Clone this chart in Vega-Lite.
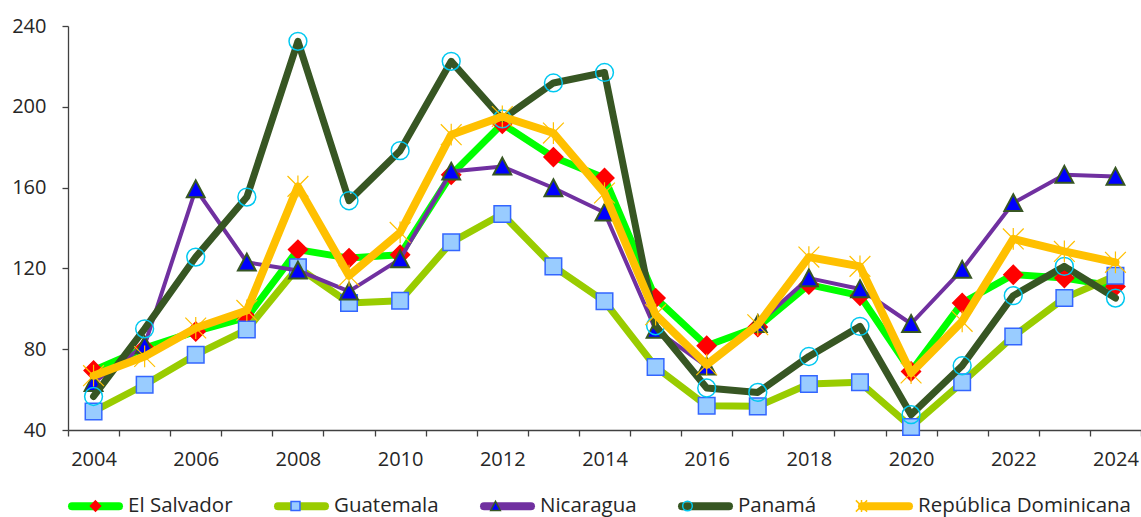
{
  "$schema": "https://vega.github.io/schema/vega-lite/v6.json",
  "width": 1073,
  "height": 404,
  "autosize": {"type": "none"},
  "padding": {"left": 68, "top": 26, "right": 0, "bottom": 87},
  "background": "white",
  "config": {
    "font": "Open Sans",
    "view": {"stroke": null},
    "axis": {"labelFont": "Open Sans", "labelFontSize": 20, "labelColor": "#262626", "domainColor": "#404040", "tickColor": "#404040", "domainWidth": 1.3, "tickWidth": 1.3, "tickSize": 6, "grid": false, "title": null}
  },
  "data": {"values": [
    {"year": 2004, "country": "El Salvador", "value": 69.5},
    {"year": 2005, "country": "El Salvador", "value": 80.5},
    {"year": 2006, "country": "El Salvador", "value": 88.8},
    {"year": 2007, "country": "El Salvador", "value": 95.7},
    {"year": 2008, "country": "El Salvador", "value": 129.3},
    {"year": 2009, "country": "El Salvador", "value": 125.1},
    {"year": 2010, "country": "El Salvador", "value": 126.8},
    {"year": 2011, "country": "El Salvador", "value": 166.4},
    {"year": 2012, "country": "El Salvador", "value": 191.6},
    {"year": 2013, "country": "El Salvador", "value": 175.1},
    {"year": 2014, "country": "El Salvador", "value": 164.8},
    {"year": 2015, "country": "El Salvador", "value": 105.3},
    {"year": 2016, "country": "El Salvador", "value": 81.7},
    {"year": 2017, "country": "El Salvador", "value": 91},
    {"year": 2018, "country": "El Salvador", "value": 112},
    {"year": 2019, "country": "El Salvador", "value": 106.5},
    {"year": 2020, "country": "El Salvador", "value": 69},
    {"year": 2021, "country": "El Salvador", "value": 102.9},
    {"year": 2022, "country": "El Salvador", "value": 116.9},
    {"year": 2023, "country": "El Salvador", "value": 115.2},
    {"year": 2024, "country": "El Salvador", "value": 111.1},
    {"year": 2004, "country": "Guatemala", "value": 49.2},
    {"year": 2005, "country": "Guatemala", "value": 62.4},
    {"year": 2006, "country": "Guatemala", "value": 77.3},
    {"year": 2007, "country": "Guatemala", "value": 89.7},
    {"year": 2008, "country": "Guatemala", "value": 120.5},
    {"year": 2009, "country": "Guatemala", "value": 102.9},
    {"year": 2010, "country": "Guatemala", "value": 104},
    {"year": 2011, "country": "Guatemala", "value": 132.9},
    {"year": 2012, "country": "Guatemala", "value": 146.9},
    {"year": 2013, "country": "Guatemala", "value": 121},
    {"year": 2014, "country": "Guatemala", "value": 103.7},
    {"year": 2015, "country": "Guatemala", "value": 71.2},
    {"year": 2016, "country": "Guatemala", "value": 52},
    {"year": 2017, "country": "Guatemala", "value": 51.7},
    {"year": 2018, "country": "Guatemala", "value": 62.8},
    {"year": 2019, "country": "Guatemala", "value": 63.6},
    {"year": 2020, "country": "Guatemala", "value": 41.5},
    {"year": 2021, "country": "Guatemala", "value": 63.6},
    {"year": 2022, "country": "Guatemala", "value": 86.3},
    {"year": 2023, "country": "Guatemala", "value": 105.3},
    {"year": 2024, "country": "Guatemala", "value": 116.4},
    {"year": 2004, "country": "Nicaragua", "value": 63.4},
    {"year": 2005, "country": "Nicaragua", "value": 82},
    {"year": 2006, "country": "Nicaragua", "value": 159.3},
    {"year": 2007, "country": "Nicaragua", "value": 123},
    {"year": 2008, "country": "Nicaragua", "value": 119},
    {"year": 2009, "country": "Nicaragua", "value": 108.6},
    {"year": 2010, "country": "Nicaragua", "value": 124.6},
    {"year": 2011, "country": "Nicaragua", "value": 168},
    {"year": 2012, "country": "Nicaragua", "value": 170.5},
    {"year": 2013, "country": "Nicaragua", "value": 159.8},
    {"year": 2014, "country": "Nicaragua", "value": 147.7},
    {"year": 2015, "country": "Nicaragua", "value": 89.7},
    {"year": 2016, "country": "Nicaragua", "value": 71.5},
    {"year": 2017, "country": "Nicaragua", "value": 92.6},
    {"year": 2018, "country": "Nicaragua", "value": 115.2},
    {"year": 2019, "country": "Nicaragua", "value": 109.8},
    {"year": 2020, "country": "Nicaragua", "value": 92.6},
    {"year": 2021, "country": "Nicaragua", "value": 119.4},
    {"year": 2022, "country": "Nicaragua", "value": 152.4},
    {"year": 2023, "country": "Nicaragua", "value": 166.4},
    {"year": 2024, "country": "Nicaragua", "value": 165.5},
    {"year": 2004, "country": "Panamá", "value": 56.6},
    {"year": 2005, "country": "Panamá", "value": 90.1},
    {"year": 2006, "country": "Panamá", "value": 125.6},
    {"year": 2007, "country": "Panamá", "value": 155.3},
    {"year": 2008, "country": "Panamá", "value": 232.4},
    {"year": 2009, "country": "Panamá", "value": 153.5},
    {"year": 2010, "country": "Panamá", "value": 178.3},
    {"year": 2011, "country": "Panamá", "value": 222.5},
    {"year": 2012, "country": "Panamá", "value": 194},
    {"year": 2013, "country": "Panamá", "value": 211.8},
    {"year": 2014, "country": "Panamá", "value": 217},
    {"year": 2015, "country": "Panamá", "value": 91.6},
    {"year": 2016, "country": "Panamá", "value": 60.8},
    {"year": 2017, "country": "Panamá", "value": 58.6},
    {"year": 2018, "country": "Panamá", "value": 76.4},
    {"year": 2019, "country": "Panamá", "value": 91.3},
    {"year": 2020, "country": "Panamá", "value": 47.6},
    {"year": 2021, "country": "Panamá", "value": 71.8},
    {"year": 2022, "country": "Panamá", "value": 106.5},
    {"year": 2023, "country": "Panamá", "value": 121},
    {"year": 2024, "country": "Panamá", "value": 105.3},
    {"year": 2004, "country": "República Dominicana", "value": 66.9},
    {"year": 2005, "country": "República Dominicana", "value": 76.4},
    {"year": 2006, "country": "República Dominicana", "value": 90.5},
    {"year": 2007, "country": "República Dominicana", "value": 99.2},
    {"year": 2008, "country": "República Dominicana", "value": 160.6},
    {"year": 2009, "country": "República Dominicana", "value": 116.4},
    {"year": 2010, "country": "República Dominicana", "value": 137.8},
    {"year": 2011, "country": "República Dominicana", "value": 186.2},
    {"year": 2012, "country": "República Dominicana", "value": 195.2},
    {"year": 2013, "country": "República Dominicana", "value": 187},
    {"year": 2014, "country": "República Dominicana", "value": 157.3},
    {"year": 2015, "country": "República Dominicana", "value": 97.1},
    {"year": 2016, "country": "República Dominicana", "value": 72.3},
    {"year": 2017, "country": "República Dominicana", "value": 92.1},
    {"year": 2018, "country": "República Dominicana", "value": 125.6},
    {"year": 2019, "country": "República Dominicana", "value": 121},
    {"year": 2020, "country": "República Dominicana", "value": 68.2},
    {"year": 2021, "country": "República Dominicana", "value": 93.8},
    {"year": 2022, "country": "República Dominicana", "value": 134.6},
    {"year": 2023, "country": "República Dominicana", "value": 128.4},
    {"year": 2024, "country": "República Dominicana", "value": 123}
  ]},
  "encoding": {
    "x": {"field": "year", "type": "ordinal", "scale": {"type": "band", "paddingInner": 0, "paddingOuter": 0},
      "axis": {"tickBand": "extent", "labelAngle": 0, "labelPadding": 13, "labelOverlap": false, "labelExpr": "datum.value % 2 === 0 ? datum.label : ''"}},
    "y": {"field": "value", "type": "quantitative", "scale": {"domain": [40, 240], "nice": false, "zero": false},
      "axis": {"values": [40, 80, 120, 160, 200, 240], "labelPadding": 16}}
  },
  "layer": [
    {
      "transform": [{"filter": "datum.country === 'El Salvador'"}],
      "mark": {"type": "line", "strokeWidth": 7, "strokeJoin": "round", "strokeCap": "round"},
      "encoding": {"color": {"field": "country", "type": "nominal",
        "scale": {"domain": ["El Salvador", "Guatemala", "Nicaragua", "Panamá", "República Dominicana"], "range": ["#00FF00", "#99CC00", "#7030A0", "#375623", "#FFC000"]},
        "legend": {"orient": "none", "legendX": 0, "legendY": 452.5, "direction": "horizontal", "columns": 5, "title": null, "symbolType": "stroke", "symbolSize": 2209, "symbolStrokeWidth": 8, "symbolOpacity": 1, "labelFont": "Open Sans", "labelFontSize": 20.5, "labelColor": "#262626", "labelOffset": 5, "labelLimit": 400, "columnPadding": 29, "padding": 0,
          "encode": {"symbols": {"update": {"strokeCap": {"value": "round"}}}}}}}
    },
    {
      "transform": [{"filter": "datum.country === 'El Salvador'"}],
      "mark": {"type": "point", "size": 9801, "opacity": 1, "strokeWidth": 1.5},
      "encoding": {
        "fill": {"field": "country", "type": "nominal", "scale": {"range": ["#FF0000", "#99CCFF", "#0000FF", "transparent", "transparent"]},
          "legend": {"orient": "none", "legendX": 0, "legendY": 452.5, "direction": "horizontal", "columns": 5, "title": null, "symbolSize": 2862.25, "symbolStrokeWidth": 1.5, "symbolOpacity": 1, "labelFont": "Open Sans", "labelFontSize": 20.5, "labelOpacity": 0, "labelOffset": 5, "labelLimit": 400, "columnPadding": 29, "padding": 0}},
        "stroke": {"field": "country", "type": "nominal", "scale": {"range": ["#FF0000", "#3366FF", "#375623", "#00C8F0", "#FFC000"]},
          "legend": {"orient": "none", "legendX": 0, "legendY": 452.5, "direction": "horizontal", "columns": 5, "title": null, "symbolSize": 2862.25, "symbolStrokeWidth": 1.5, "symbolOpacity": 1, "labelFont": "Open Sans", "labelFontSize": 20.5, "labelOpacity": 0, "labelOffset": 5, "labelLimit": 400, "columnPadding": 29, "padding": 0}},
        "shape": {"field": "country", "type": "nominal", "scale": {"range": [
          "M0,-0.19L0.19,0L0,0.19L-0.19,0ZM-1.1215,0M1.1215,0",
          "M-0.167,-0.167L0.167,-0.167L0.167,0.167L-0.167,0.167ZM-1.1215,0M1.1215,0",
          "M0,-0.175L0.18,0.165L-0.18,0.165ZM-1.1215,0M1.1215,0",
          "M0.18,0A0.18,0.18,0,1,1,-0.18,0A0.18,0.18,0,1,1,0.18,0ZM-1.1215,0M1.1215,0",
          "M-0.21,-0.21L0.21,0.21M-0.21,0.21L0.21,-0.21M0,-0.22L0,0.22M-1.1215,0M1.1215,0"]},
          "legend": {"orient": "none", "legendX": 0, "legendY": 452.5, "direction": "horizontal", "columns": 5, "title": null, "symbolSize": 2862.25, "symbolStrokeWidth": 1.5, "symbolOpacity": 1, "labelFont": "Open Sans", "labelFontSize": 20.5, "labelOpacity": 0, "labelOffset": 5, "labelLimit": 400, "columnPadding": 29, "padding": 0}}
      }
    },
    {
      "transform": [{"filter": "datum.country === 'Guatemala'"}],
      "mark": {"type": "line", "strokeWidth": 7, "strokeJoin": "round", "strokeCap": "round"},
      "encoding": {"color": {"field": "country", "type": "nominal"}}
    },
    {
      "transform": [{"filter": "datum.country === 'Guatemala'"}],
      "mark": {"type": "point", "size": 9801, "opacity": 1, "strokeWidth": 1.5},
      "encoding": {"fill": {"field": "country", "type": "nominal"}, "stroke": {"field": "country", "type": "nominal"}, "shape": {"field": "country", "type": "nominal"}}
    },
    {
      "transform": [{"filter": "datum.country === 'Nicaragua'"}],
      "mark": {"type": "line", "strokeWidth": 4, "strokeJoin": "round", "strokeCap": "round"},
      "encoding": {"color": {"field": "country", "type": "nominal"}}
    },
    {
      "transform": [{"filter": "datum.country === 'Nicaragua'"}],
      "mark": {"type": "point", "size": 9801, "opacity": 1, "strokeWidth": 2},
      "encoding": {"fill": {"field": "country", "type": "nominal"}, "stroke": {"field": "country", "type": "nominal"}, "shape": {"field": "country", "type": "nominal"}}
    },
    {
      "transform": [{"filter": "datum.country === 'Panamá'"}],
      "mark": {"type": "line", "strokeWidth": 7, "strokeJoin": "round", "strokeCap": "round"},
      "encoding": {"color": {"field": "country", "type": "nominal"}}
    },
    {
      "transform": [{"filter": "datum.country === 'Panamá'"}],
      "mark": {"type": "point", "size": 9801, "opacity": 1, "strokeWidth": 1.5},
      "encoding": {"fill": {"field": "country", "type": "nominal"}, "stroke": {"field": "country", "type": "nominal"}, "shape": {"field": "country", "type": "nominal"}}
    },
    {
      "transform": [{"filter": "datum.country === 'República Dominicana'"}],
      "mark": {"type": "line", "strokeWidth": 8, "strokeJoin": "round", "strokeCap": "round"},
      "encoding": {"color": {"field": "country", "type": "nominal"}}
    },
    {
      "transform": [{"filter": "datum.country === 'República Dominicana'"}],
      "mark": {"type": "point", "size": 9801, "opacity": 1, "strokeWidth": 1.2},
      "encoding": {"fill": {"field": "country", "type": "nominal"}, "stroke": {"field": "country", "type": "nominal"}, "shape": {"field": "country", "type": "nominal"}}
    }
  ]
}
